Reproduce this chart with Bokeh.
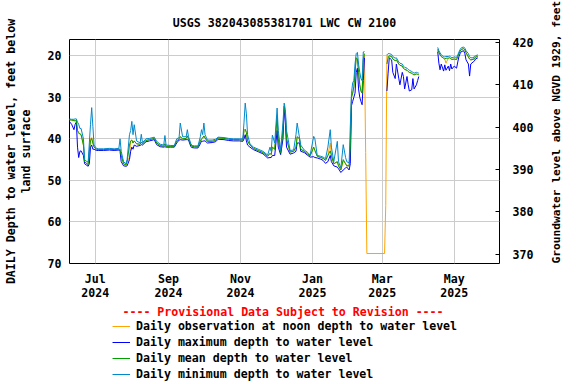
import math
import numpy as np
import pandas as pd
from bokeh.plotting import figure
from bokeh.layouts import column
from bokeh.models import (ColumnDataSource, Range1d, LinearAxis, FixedTicker,
                          DatetimeTickFormatter, Label, Legend, LegendItem)
from bokeh.embed import file_html
from bokeh.resources import INLINE

nan = float("nan")

# ---------------- data (depth to water level, feet below land surface) -------------
dates = [
    # Jun 2024
    "2024-06-09", "2024-06-11", "2024-06-13", "2024-06-14", "2024-06-15", "2024-06-16",
    "2024-06-17", "2024-06-18", "2024-06-19", "2024-06-21", "2024-06-22", "2024-06-24",
    "2024-06-25", "2024-06-26", "2024-06-27", "2024-06-28", "2024-06-29", "2024-06-30",
    # Jul
    "2024-07-02", "2024-07-04", "2024-07-08", "2024-07-13", "2024-07-17", "2024-07-21",
    "2024-07-22", "2024-07-23", "2024-07-25", "2024-07-27", "2024-07-28", "2024-07-30",
    "2024-07-31",
    # Aug
    "2024-08-01", "2024-08-02", "2024-08-03", "2024-08-05", "2024-08-08", "2024-08-09",
    "2024-08-10", "2024-08-13", "2024-08-16", "2024-08-20", "2024-08-22", "2024-08-25",
    "2024-08-28", "2024-08-29", "2024-08-30",
    # Sep
    "2024-09-03", "2024-09-06", "2024-09-08", "2024-09-10", "2024-09-11", "2024-09-13",
    "2024-09-16", "2024-09-17", "2024-09-18", "2024-09-20", "2024-09-21", "2024-09-23",
    "2024-09-26", "2024-09-28", "2024-09-29", "2024-09-30",
    # Oct
    "2024-10-01", "2024-10-02", "2024-10-04", "2024-10-08", "2024-10-11", "2024-10-13",
    "2024-10-18", "2024-10-22", "2024-10-26", "2024-10-31",
    # Nov
    "2024-11-03", "2024-11-04", "2024-11-05", "2024-11-06", "2024-11-07", "2024-11-09",
    "2024-11-12", "2024-11-16", "2024-11-20", "2024-11-24", "2024-11-26", "2024-11-27",
    "2024-11-28", "2024-11-30",
    # Dec
    "2024-12-02", "2024-12-03", "2024-12-05", "2024-12-07", "2024-12-08", "2024-12-09",
    "2024-12-10", "2024-12-13", "2024-12-16", "2024-12-18", "2024-12-19", "2024-12-21",
    "2024-12-22", "2024-12-25", "2024-12-28", "2024-12-30",
    # Jan 2025
    "2025-01-02", "2025-01-03", "2025-01-05", "2025-01-08", "2025-01-10", "2025-01-12",
    "2025-01-14", "2025-01-16", "2025-01-17", "2025-01-19", "2025-01-22", "2025-01-23",
    "2025-01-25", "2025-01-27", "2025-01-29", "2025-01-30",
    # Feb
    "2025-02-01", "2025-02-02", "2025-02-03", "2025-02-04", "2025-02-05", "2025-02-06",
    "2025-02-07", "2025-02-08", "2025-02-09", "2025-02-10", "2025-02-11", "2025-02-12",
    "2025-02-13", "2025-02-14", "2025-02-15", "2025-02-16",
    # Mar
    "2025-03-03", "2025-03-04", "2025-03-05", "2025-03-06", "2025-03-07", "2025-03-09",
    "2025-03-10", "2025-03-12", "2025-03-13", "2025-03-15", "2025-03-16", "2025-03-18",
    "2025-03-19", "2025-03-20", "2025-03-22", "2025-03-23", "2025-03-24", "2025-03-26",
    "2025-03-27", "2025-03-28", "2025-03-30", "2025-03-31",
    # Apr
    "2025-04-01", "2025-04-09", "2025-04-17", "2025-04-18", "2025-04-19", "2025-04-20",
    "2025-04-22", "2025-04-23", "2025-04-24", "2025-04-26", "2025-04-27", "2025-04-28",
    "2025-04-29",
    # May
    "2025-05-01", "2025-05-03", "2025-05-04", "2025-05-05", "2025-05-06", "2025-05-07",
    "2025-05-09", "2025-05-10", "2025-05-11", "2025-05-13", "2025-05-14", "2025-05-15",
    "2025-05-17", "2025-05-18", "2025-05-19", "2025-05-21",
]

depth_mean = [
    35.4, 35.5, 35.6, 35.7, 35.5, 38.0, 38.5, 38.8, 39.0, 41.5, 45.5, 46.0, 46.2, 43.0, 40.5, 39.9, 41.0, 42.0,
    42.5, 42.6, 42.6, 42.5, 42.6, 42.5, 42.5, 44.0, 46.0, 46.3, 45.5, 41.5, 40.5,
    40.3, 41.0, 40.5, 41.2, 41.3, 40.8, 41.2, 40.4, 40.2, 39.9, 41.0, 41.6, 41.8, 41.2, 41.8,
    41.8, 41.8, 40.5, 40.0, 39.5, 40.0, 39.9, 39.3, 40.0, 41.5, 41.8, 41.9, 41.9, 40.5, 40.0, 39.8,
    39.3, 39.8, 40.6, 40.6, 40.4, 39.8, 39.9, 40.1, 40.2, 40.2,
    40.3, 38.0, 37.7, 38.5, 40.5, 41.5, 42.3, 42.8, 43.3, 44.2, 43.5, 43.8, 42.0, 42.5,
    34.6, 40.0, 43.3, 38.0, 32.2, 34.0, 40.0, 43.2, 43.0, 42.0, 39.5, 40.0, 42.5, 43.0, 43.7, 44.1,
    42.0, 42.8, 44.2, 44.5, 44.7, 45.2, 44.0, 42.9, 44.0, 46.0, 45.5, 46.5, 47.5, 45.0, 46.0, 46.5,
    46.5, 42.0, 30.0, 29.0, 27.5, 24.0, 20.5, 20.8, 24.0, 27.0, 28.5, 29.0, 21.0, 19.5, nan, nan,
    nan, nan, 22.0, 20.5, 20.0, 20.2, 20.8, 21.2, 21.0, 22.0, 22.3, 22.5, 23.0, 23.3, 23.5, 23.8, 24.0, 24.2, 24.5, 24.6, 24.4, 24.5,
    24.6, nan, 18.5, 19.2, 19.8, 20.2, 20.6, 20.8, 20.6, 20.6, 20.5, 20.7, 20.9,
    20.8, 20.9, 20.2, 19.5, 18.9, 18.5, 18.3, 18.6, 19.3, 20.3, 20.8, 21.0, 20.9, 20.8, 20.4, 20.1,
]

depth_max = [
    35.8, 36.5, 37.8, 36.5, 36.0, 42.0, 44.5, 43.0, 42.9, 44.0, 46.0, 46.4, 46.6, 46.0, 42.0, 41.5, 42.5, 42.5,
    42.8, 42.8, 42.8, 42.7, 42.8, 42.7, 43.0, 45.5, 46.5, 46.6, 46.5, 45.0, 43.0,
    42.0, 42.5, 41.5, 41.8, 41.6, 41.4, 41.5, 40.7, 40.5, 40.2, 41.4, 41.9, 42.0, 41.9, 42.0,
    42.0, 42.0, 41.0, 40.3, 40.2, 40.3, 40.2, 40.2, 40.3, 41.9, 42.1, 42.2, 42.2, 41.2, 40.5, 40.6,
    40.5, 40.5, 41.0, 40.9, 40.7, 40.1, 40.2, 40.4, 40.5, 40.5,
    40.6, 40.0, 39.0, 40.5, 41.5, 42.0, 42.6, 43.1, 43.6, 44.6, 44.5, 44.5, 44.0, 44.0,
    38.0, 42.0, 43.8, 40.0, 33.0, 36.0, 42.0, 43.7, 43.4, 43.0, 41.0, 41.0, 43.0, 43.3, 44.0, 44.4,
    44.3, 44.5, 44.6, 44.9, 45.2, 45.9, 45.5, 44.0, 45.5, 46.5, 46.8, 47.2, 48.1, 47.5, 47.0, 46.8,
    47.5, 46.0, 32.0, 31.0, 30.0, 29.0, 24.0, 23.0, 28.0, 30.0, 31.0, 31.8, 26.0, 20.5, nan, nan,
    nan, nan, 28.5, 24.2, 20.5, 21.0, 24.0, 25.5, 22.0, 25.4, 27.0, 24.0, 25.0, 28.0, 25.0, 27.0, 28.5, 28.2, 25.5, 28.0, 27.0, 26.0,
    25.0, nan, 19.0, 21.8, 23.4, 22.0, 23.7, 22.2, 23.5, 22.5, 23.6, 22.0, 23.2,
    22.5, 23.0, 21.5, 20.2, 19.5, 19.0, 18.8, 19.5, 21.0, 22.0, 24.9, 22.0, 21.5, 21.3, 20.8, 20.5,
]

depth_min = [
    35.2, 35.3, 35.3, 35.2, 35.2, 36.0, 36.5, 37.5, 37.5, 40.0, 45.0, 45.5, 45.6, 41.0, 36.5, 32.5, 37.0, 41.5,
    42.3, 42.4, 42.4, 42.3, 42.4, 42.3, 40.0, 43.0, 45.5, 46.0, 45.0, 39.0, 38.0,
    35.8, 39.0, 36.6, 40.5, 41.0, 38.9, 40.9, 40.0, 39.9, 39.6, 40.6, 41.3, 41.5, 39.2, 41.5,
    41.6, 41.6, 40.0, 39.7, 36.2, 39.5, 39.5, 37.8, 39.5, 41.2, 41.6, 41.7, 41.7, 39.5, 37.8, 39.0,
    36.2, 39.0, 40.3, 40.3, 40.1, 39.6, 39.7, 39.9, 40.0, 40.0,
    40.0, 36.0, 31.4, 34.0, 39.0, 41.2, 42.0, 42.5, 43.0, 43.9, 42.0, 43.0, 39.1, 41.0,
    32.6, 38.0, 42.8, 36.0, 31.4, 33.0, 38.0, 42.8, 42.7, 39.0, 36.2, 39.8, 41.5, 42.7, 43.3, 43.9,
    39.4, 40.0, 44.0, 44.2, 44.4, 44.8, 42.0, 37.8, 42.0, 45.5, 40.6, 45.5, 47.0, 41.4, 44.5, 45.5,
    45.8, 37.0, 29.0, 26.5, 26.0, 22.0, 19.5, 19.2, 22.0, 24.0, 25.5, 26.0, 19.1, 19.0, nan, nan,
    nan, nan, 19.8, 19.5, 19.5, 19.7, 20.2, 20.6, 20.5, 21.5, 21.8, 22.0, 22.5, 22.8, 23.0, 23.3, 23.5, 23.8, 24.0, 24.2, 24.0, 24.1,
    24.2, nan, 18.0, 18.8, 19.3, 19.8, 20.2, 20.3, 20.2, 20.2, 20.1, 20.3, 20.5,
    20.3, 20.4, 19.8, 19.1, 18.5, 18.1, 17.9, 18.2, 18.8, 19.5, 20.2, 20.5, 20.5, 20.4, 20.0, 19.8,
]

depth_noon = [
    35.4, 35.5, 35.6, 35.7, 35.5, 38.0, 38.8, 38.8, 39.0, 41.5, 45.5, 46.0, 46.2, 43.0, 40.0, 39.7, 41.0, 42.0,
    42.5, 42.6, 42.6, 42.5, 42.6, 42.5, 42.5, 44.0, 46.0, 46.3, 45.5, 44.5, 40.5,
    40.3, 41.0, 40.5, 41.2, 41.3, 40.8, 41.2, 40.4, 40.2, 39.9, 41.0, 41.6, 41.8, 41.2, 41.8,
    41.8, 41.8, 40.5, 40.0, 39.5, 40.0, 39.9, 39.3, 40.0, 41.5, 41.8, 41.9, 41.9, 40.5, 40.0, 39.8,
    39.3, 39.8, 40.6, 40.6, 40.4, 39.8, 39.9, 40.1, 40.2, 40.2,
    40.3, 38.0, 37.7, 38.5, 40.5, 41.5, 42.3, 42.8, 43.3, 44.2, 43.5, 43.8, 42.0, 42.5,
    34.6, 40.0, 43.3, 38.0, 32.2, 34.0, 40.0, 43.2, 43.0, 42.0, 39.5, 40.0, 42.5, 43.0, 43.7, 44.1,
    42.0, 42.8, 44.2, 44.5, 44.7, 45.2, 44.0, 41.0, 44.0, 46.0, 45.5, 46.5, 47.5, 45.3, 46.0, 46.5,
    46.5, 42.0, 30.0, 29.0, 27.5, 24.0, 20.5, 20.8, 24.0, 27.0, 28.5, 29.0, 21.0, 19.8, 43.3, 67.6,
    67.6, 56.0, 19.8, 20.5, 20.0, 20.2, 20.8, 21.2, 21.0, 22.0, 22.3, 22.5, 23.0, 23.3, 23.5, 23.8, 24.0, 24.2, 24.5, 24.6, 24.4, 24.5,
    24.6, nan, 18.5, 19.2, 19.8, 20.2, 20.6, 20.8, 21.8, 20.6, 20.5, 20.7, 20.9,
    20.8, 20.9, 20.2, 19.5, 18.9, 18.5, 18.3, 18.6, 19.3, 20.3, 20.8, 21.0, 20.9, 20.0, 20.4, 20.1,
]

depth_ticks = [20, 30, 40, 50, 60, 70]
elev_ticks = [370, 380, 390, 400, 410, 420]
month_ticks = ["2024-07-01", "2024-09-01", "2024-11-01", "2025-01-01", "2025-03-01", "2025-05-01"]

title_text = "USGS 382043085381701 LWC CW 2100"
left_label = "DAILY Depth to water level, feet below\nland surface"
right_label = "Groundwater level above NGVD 1929, feet"
provisional = "---- Provisional Data Subject to Revision ----"
series_labels = ["Daily observation at noon depth to water level",
                 "Daily maximum depth to water level",
                 "Daily mean depth to water level",
                 "Daily minimum depth to water level"]
series_colors = ["#FFA500", "#0000FF", "#00A000", "#0088CC"]

for name, arr in [("mean", depth_mean), ("max", depth_max), ("min", depth_min), ("noon", depth_noon)]:
    if len(arr) != len(dates):
        raise SystemExit(f"length mismatch {name}: {len(arr)} vs {len(dates)}")

# ---------------- main chart -------------
FONT = "DejaVu Sans Mono"
FS = "11.6px"
MAIN_H = 302

src = ColumnDataSource(dict(
    date=pd.to_datetime(dates),
    noon=np.array(depth_noon, dtype=float),
    dmax=np.array(depth_max, dtype=float),
    dmean=np.array(depth_mean, dtype=float),
    dmin=np.array(depth_min, dtype=float),
))

p = figure(width=576, height=MAIN_H, x_axis_type="datetime", output_backend="svg",
           toolbar_location=None,
           x_range=Range1d(pd.Timestamp("2024-06-09 05:00"), pd.Timestamp("2025-06-08 08:00")),
           y_range=Range1d(70, 16.1),
           min_border_left=65, min_border_right=77, min_border_top=39,
           min_border_bottom=MAIN_H - 266)
p.background_fill_color = "white"
p.border_fill_color = "white"
p.outline_line_color = "black"
p.outline_line_width = 1
p.outline_line_alpha = 1.0

p.title.text = title_text
p.title.align = "center"
p.title.text_font = FONT
p.title.text_font_size = FS
p.title.text_font_style = "bold"
p.title.text_color = "black"
p.title.standoff = 20

p.extra_y_ranges = {"elev": Range1d(367.8, 420.7)}

xa = p.xaxis[0]
xa.ticker = FixedTicker(ticks=[pd.Timestamp(t).value / 1e6 for t in month_ticks])
xa.formatter = DatetimeTickFormatter(days="%b\n%Y", months="%b\n%Y", years="%b\n%Y")
ya = p.yaxis[0]
ya.ticker = FixedTicker(ticks=depth_ticks)
ra = LinearAxis(y_range_name="elev", ticker=FixedTicker(ticks=elev_ticks))
p.add_layout(ra, "right")

for ax in (xa, ya, ra):
    ax.axis_line_color = None
    ax.major_tick_out = 0
    ax.major_tick_in = 0
    ax.minor_tick_in = 0
    ax.minor_tick_out = 0
    ax.major_label_text_font = FONT
    ax.major_label_text_font_size = FS
    ax.major_label_text_font_style = "bold"
    ax.major_label_text_color = "black"
    ax.axis_label_text_font = FONT
    ax.axis_label_text_font_size = FS
    ax.axis_label_text_font_style = "bold"
    ax.axis_label_text_color = "black"
ra.major_tick_in = 4
ra.major_tick_line_color = "black"
ya.major_label_standoff = 8
xa.major_label_standoff = 8
xa.major_label_text_line_height = 1.0
ra.major_label_standoff = 13

ya.axis_label = left_label
ya.axis_label_standoff = 12
ya.axis_label_text_line_height = 1.05
ra.axis_label = right_label
ra.axis_label_standoff = 20
ra.axis_label_text_font_size = "11.2px"
props = ra.properties()
if "axis_label_orientation" in props:
    ra.axis_label_orientation = math.pi / 2
    if "axis_label_align" in props:
        ra.axis_label_align = "start"

p.xgrid.grid_line_color = "#cccccc"
p.ygrid.grid_line_color = "#cccccc"
p.xgrid.grid_line_width = 1
p.ygrid.grid_line_width = 1

r_noon = p.line("date", "noon", source=src, line_color=series_colors[0], line_width=1)
r_max = p.line("date", "dmax", source=src, line_color=series_colors[1], line_width=1)
r_mean = p.line("date", "dmean", source=src, line_color=series_colors[2], line_width=1)
r_min = p.line("date", "dmin", source=src, line_color=series_colors[3], line_width=1)

# ---------------- key panel (provisional note + legend) -------------
# its frame is aligned with the chart's frame (page x 65..499), so x data = page pixels
KEY_H = 384 - MAIN_H
k = figure(width=576, height=KEY_H, output_backend="svg", toolbar_location=None,
           x_range=Range1d(65, 499), y_range=Range1d(KEY_H, 0),
           min_border=0, min_border_left=0, min_border_right=0,
           min_border_top=0, min_border_bottom=0)
k.axis.visible = False
k.grid.visible = False
k.outline_line_color = None
k.background_fill_color = "white"
k.border_fill_color = "white"

k.add_layout(Label(x=280.5, y=311 - MAIN_H, text=provisional, text_align="center",
                   text_baseline="middle", text_font=FONT, text_font_size=FS,
                   text_font_style="bold", text_color="#FF0000"))

key_src = ColumnDataSource(dict(x=[nan], y=[nan]))
key_r = [k.line("x", "y", source=key_src, line_color=c, line_width=1) for c in series_colors]
legend = Legend(items=[LegendItem(label=series_labels[i], renderers=[key_r[i]]) for i in range(4)],
                location=(108 - 65, KEY_H - 80), orientation="vertical",
                padding=0, margin=0, spacing=0, glyph_width=18, glyph_height=16,
                label_height=16, label_standoff=6,
                label_text_font=FONT, label_text_font_size=FS, label_text_font_style="bold",
                label_text_color="black",
                border_line_color=None, background_fill_alpha=0)
k.add_layout(legend)

layout = column(p, k, spacing=0)
open("out.html", "w").write(file_html(layout, INLINE))
